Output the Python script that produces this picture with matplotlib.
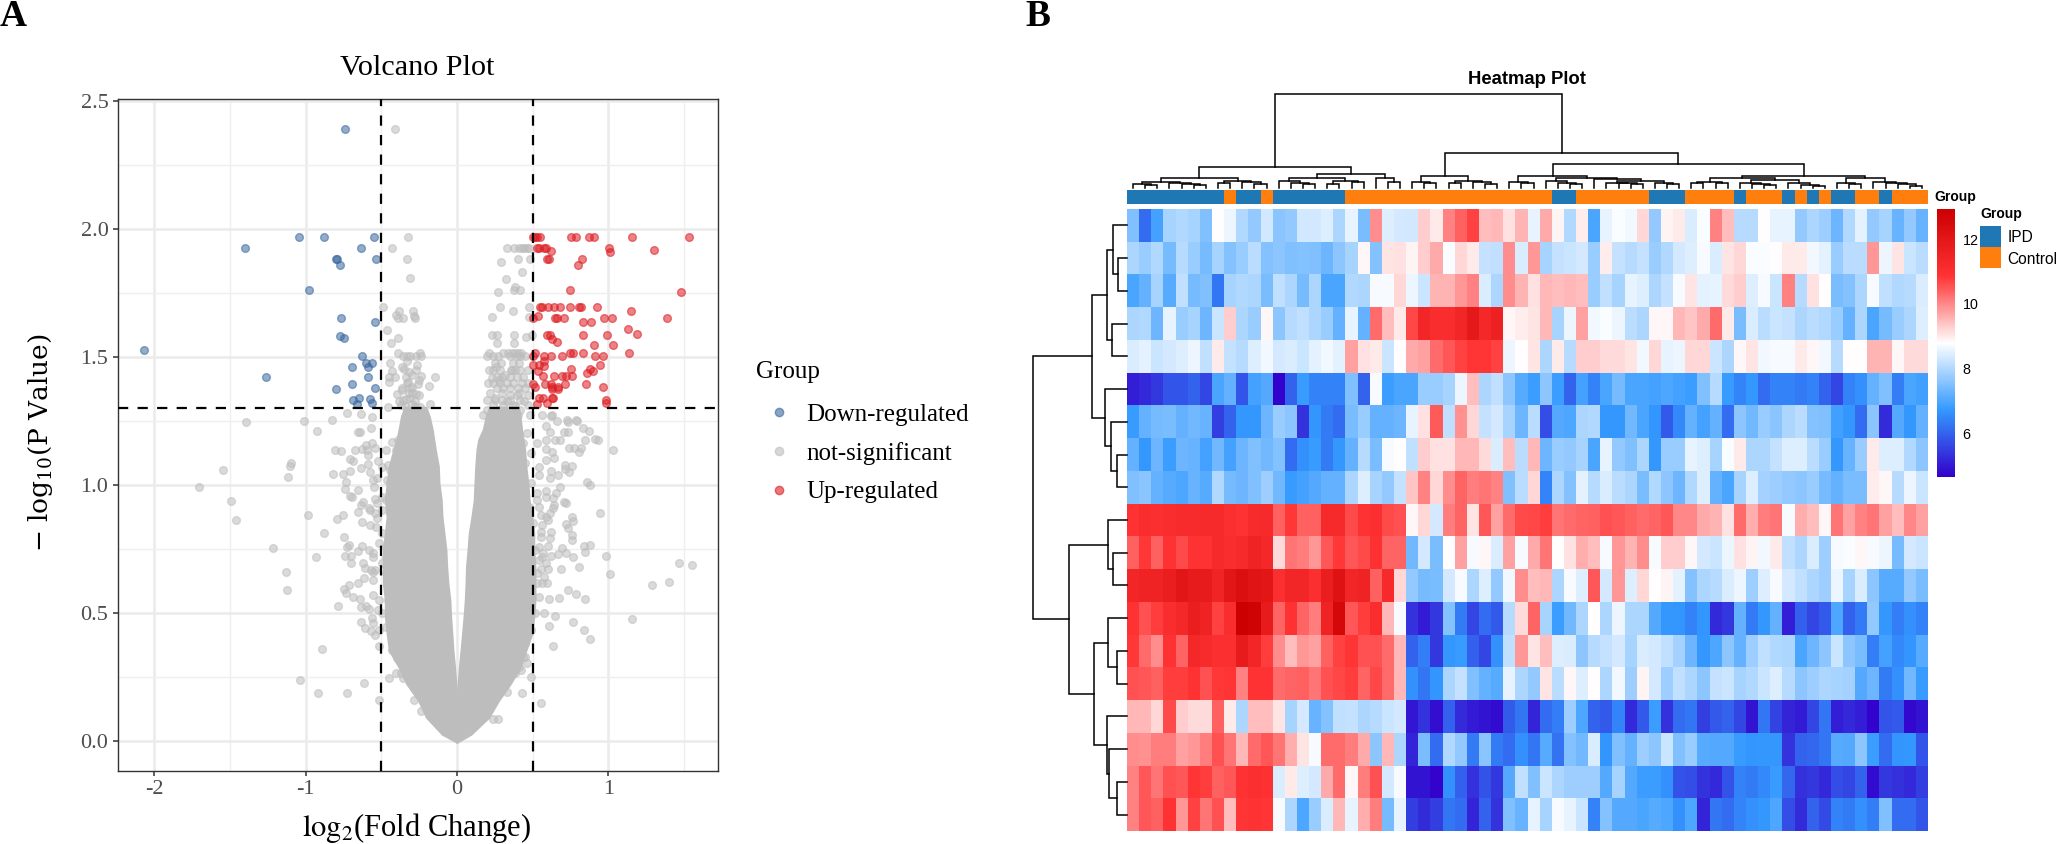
import numpy as np
import matplotlib
matplotlib.use('Agg')
import matplotlib.pyplot as plt
from matplotlib.colors import LinearSegmentedColormap, ListedColormap, Normalize
from matplotlib.lines import Line2D

W, H = 2056, 844
SERIF = 'Liberation Serif'
SANS = 'Liberation Sans'

# ---- panel A : volcano ----
x_ticks = [-2, -1, 0, 1]
y_ticks = [0.0, 0.5, 1.0, 1.5, 2.0, 2.5]
fc_cut = 0.5
p_cut = 1.3

down_points = [(-0.742, 2.392), (-1.042, 1.970), (-0.877, 1.970), (-0.551, 1.970), (-1.401, 1.925), (-0.634, 1.925),
               (-0.800, 1.882), (-0.793, 1.882), (-0.533, 1.882), (-0.771, 1.859), (-0.976, 1.762), (-0.767, 1.651),
               (-0.542, 1.637), (-0.775, 1.583), (-0.744, 1.574), (-2.066, 1.529), (-0.626, 1.504), (-0.599, 1.477),
               (-0.564, 1.477), (-0.586, 1.461), (-0.694, 1.461), (-1.258, 1.424), (-0.586, 1.424), (-0.692, 1.395),
               (-0.802, 1.375), (-0.542, 1.379), (-0.648, 1.340), (-0.685, 1.332), (-0.573, 1.337), (-0.564, 1.322),
               (-0.659, 1.316)]

up_points = [(0.500, 1.970), (0.515, 1.970), (0.531, 1.970), (0.548, 1.970), (0.755, 1.970), (0.784, 1.970),
             (0.870, 1.970), (0.903, 1.970), (1.154, 1.970), (1.533, 1.970), (0.531, 1.925), (0.540, 1.925),
             (0.575, 1.925), (0.588, 1.925), (1.004, 1.925), (0.619, 1.915), (1.300, 1.920), (1.011, 1.910),
             (0.597, 1.882), (0.606, 1.882), (0.826, 1.882), (0.802, 1.859), (0.749, 1.762), (1.482, 1.754),
             (0.548, 1.694), (0.562, 1.694), (0.599, 1.694), (0.643, 1.694), (0.681, 1.694), (0.749, 1.694),
             (0.808, 1.694), (0.822, 1.694), (0.925, 1.694), (1.152, 1.681), (0.533, 1.660), (0.504, 1.652),
             (0.645, 1.652), (0.663, 1.652), (0.707, 1.652), (1.024, 1.652), (0.969, 1.652), (1.388, 1.652),
             (0.830, 1.637), (0.883, 1.637), (1.128, 1.609), (1.192, 1.590), (0.597, 1.585), (0.615, 1.585),
             (0.830, 1.585), (0.993, 1.585), (0.661, 1.560), (0.630, 1.569), (0.905, 1.549), (1.033, 1.549),
             (0.515, 1.514), (0.747, 1.514), (0.764, 1.514), (0.835, 1.514), (1.139, 1.514), (0.500, 1.505),
             (0.577, 1.505), (0.619, 1.505), (0.694, 1.505), (0.914, 1.505), (0.963, 1.505), (0.575, 1.486),
             (0.500, 1.469), (0.945, 1.469), (0.577, 1.465), (0.540, 1.469), (0.751, 1.452), (0.881, 1.452),
             (0.537, 1.445), (0.901, 1.445), (0.857, 1.439), (0.566, 1.426), (0.643, 1.426), (0.692, 1.426),
             (0.718, 1.426), (0.758, 1.426), (0.579, 1.393), (0.500, 1.393), (0.711, 1.393), (0.855, 1.393),
             (0.623, 1.393), (0.515, 1.384), (0.628, 1.384), (0.670, 1.384), (0.967, 1.384), (0.626, 1.374),
             (0.670, 1.376), (0.542, 1.339), (0.570, 1.339), (0.626, 1.339), (0.637, 1.339), (0.987, 1.332),
             (0.593, 1.322), (0.982, 1.322), (0.526, 1.315)]

grey_points = [(-0.412, 2.392), (-0.326, 1.970), (-0.427, 1.925), (-0.333, 1.882), (-0.308, 1.810), (-0.487, 1.697),
               (-0.383, 1.680), (-0.293, 1.681), (-0.405, 1.665), (-0.388, 1.652), (-0.357, 1.652), (-0.286, 1.660),
               (-0.278, 1.652), (-0.463, 1.605), (-0.392, 1.575), (-0.434, 1.556), (-0.392, 1.515), (-0.357, 1.504),
               (-0.333, 1.504), (-0.313, 1.504), (-0.269, 1.504), (-0.242, 1.515), (-0.240, 1.504), (-0.441, 1.477),
               (-0.267, 1.470), (-0.333, 1.486), (-0.350, 1.453), (-0.432, 1.445), (-0.317, 1.440), (-0.452, 1.424),
               (-0.412, 1.424), (-0.339, 1.424), (-0.238, 1.427), (-0.148, 1.424), (-0.324, 1.404), (-0.447, 1.404),
               (-0.258, 1.393), (-0.295, 1.384), (-0.366, 1.380), (-0.313, 1.380), (-0.183, 1.387), (-0.399, 1.355),
               (-0.269, 1.355), (-0.357, 1.332), (-0.339, 1.335), (-0.181, 1.316), (-0.295, 1.317), (-0.456, 1.306),
               (-0.368, 1.313), (-0.247, 1.303),
               (-0.38, 1.33), (-0.34, 1.31), (-0.31, 1.34), (-0.28, 1.33), (-0.25, 1.35), (-0.36, 1.37), (-0.33, 1.40),
               (-0.30, 1.43), (-0.27, 1.45), (-0.36, 1.46), (-0.28, 1.31), (-0.32, 1.36), (-0.25, 1.41), (-0.30, 1.36),
               # right of zero, above the line
               (0.330, 1.925), (0.379, 1.925), (0.410, 1.925), (0.427, 1.925), (0.443, 1.925), (0.460, 1.925),
               (0.478, 1.925), (0.403, 1.882), (0.480, 1.882), (0.291, 1.871), (0.432, 1.833), (0.322, 1.806),
               (0.383, 1.775), (0.377, 1.762), (0.416, 1.762), (0.271, 1.755), (0.284, 1.697), (0.478, 1.697),
               (0.372, 1.681), (0.233, 1.656), (0.478, 1.656), (0.231, 1.586), (0.264, 1.586), (0.377, 1.586),
               (0.454, 1.580), (0.493, 1.586), (0.264, 1.553), (0.379, 1.553), (0.214, 1.514), (0.302, 1.514),
               (0.339, 1.514), (0.361, 1.514), (0.383, 1.514), (0.405, 1.514), (0.423, 1.514), (0.196, 1.504),
               (0.240, 1.504), (0.273, 1.504), (0.350, 1.504), (0.394, 1.504), (0.416, 1.504), (0.449, 1.504),
               (0.251, 1.475), (0.289, 1.475), (0.372, 1.475), (0.412, 1.475), (0.214, 1.449), (0.240, 1.449),
               (0.284, 1.449), (0.361, 1.449), (0.383, 1.449), (0.416, 1.449), (0.471, 1.449), (0.262, 1.423),
               (0.295, 1.423), (0.350, 1.423), (0.394, 1.423), (0.438, 1.423), (0.207, 1.397), (0.240, 1.397),
               (0.284, 1.397), (0.328, 1.397), (0.372, 1.397), (0.427, 1.397), (0.471, 1.397), (0.262, 1.378),
               (0.306, 1.378), (0.350, 1.378), (0.405, 1.378), (0.449, 1.378), (0.350, 1.352), (0.394, 1.352),
               (0.471, 1.352), (0.196, 1.332), (0.251, 1.332), (0.295, 1.332), (0.350, 1.332), (0.416, 1.332),
               (0.240, 1.313), (0.306, 1.313), (0.372, 1.313), (0.471, 1.313), (0.196, 1.293), (0.273, 1.293),
               (0.350, 1.293), (0.416, 1.293), (0.174, 1.273), (0.229, 1.273), (0.295, 1.273), (0.405, 1.273),
               (0.482, 1.273), (0.559, 1.273), (0.625, 1.273), (0.725, 1.254), (0.786, 1.254),
               (0.33, 1.33), (0.30, 1.36), (0.25, 1.34), (0.22, 1.36), (0.28, 1.41), (0.32, 1.43), (0.23, 1.42),
               (0.36, 1.45), (0.41, 1.36), (0.44, 1.33), (0.38, 1.31), (0.26, 1.46),
               # below the line, left side
               (-1.392, 1.245), (-1.010, 1.251), (-0.827, 1.254), (-0.925, 1.210), (-0.724, 1.280), (-0.631, 1.277),
               (-0.564, 1.267), (-0.652, 1.206), (-0.642, 1.208), (-0.570, 1.221), (-0.807, 1.137), (-0.765, 1.133),
               (-0.673, 1.137), (-0.626, 1.139), (-0.603, 1.156), (-0.564, 1.163), (-0.595, 1.137), (-0.544, 1.143),
               (-0.588, 1.117), (-0.709, 1.100), (-0.686, 1.095), (-0.523, 1.095), (-1.098, 1.085), (-1.106, 1.074),
               (-1.546, 1.057), (-1.116, 1.030), (-1.704, 0.992), (-1.495, 0.938), (-1.459, 0.865), (-0.822, 1.043),
               (-0.750, 1.043), (-0.709, 1.056), (-0.634, 1.068), (-0.577, 1.051), (-0.590, 1.082), (-0.735, 1.010),
               (-0.557, 1.020), (-0.740, 0.983), (-0.655, 0.980), (-0.709, 0.957), (-0.693, 0.954), (-0.549, 0.991),
               (-0.544, 0.944), (-0.621, 0.935), (-0.634, 0.922), (-0.652, 0.896), (-0.582, 0.909), (-0.544, 0.889),
               (-0.750, 0.883), (-0.791, 0.868), (-0.987, 0.884), (-0.629, 0.854), (-0.577, 0.844), (-0.536, 0.837),
               (-0.876, 0.811), (-0.747, 0.798), (-1.214, 0.754), (-0.930, 0.720), (-1.126, 0.660), (-1.124, 0.590),
               (-0.711, 0.766), (-0.724, 0.759), (-0.629, 0.762), (-0.652, 0.743), (-0.582, 0.746), (-0.737, 0.724),
               (-0.698, 0.724), (-0.557, 0.720), (-0.698, 0.694), (-0.621, 0.694), (-0.608, 0.677), (-0.570, 0.668),
               (-0.616, 0.635), (-0.557, 0.661), (-0.652, 0.616), (-0.711, 0.609), (-0.745, 0.594), (-0.735, 0.579),
               (-0.686, 0.561), (-0.642, 0.555), (-0.557, 0.570), (-0.789, 0.526), (-0.634, 0.522), (-0.601, 0.529),
               (-0.582, 0.514), (-0.523, 0.512), (-0.634, 0.466), (-0.564, 0.479), (-0.557, 0.462), (-0.606, 0.440),
               (-0.570, 0.428), (-0.544, 0.414), (-0.515, 0.372), (-0.889, 0.358), (-1.036, 0.240), (-0.920, 0.189),
               (-0.729, 0.186), (-0.611, 0.228), (-0.515, 0.160), (-0.405, 0.267), (-0.371, 0.267), (-0.446, 0.245),
               (-0.356, 0.245), (-0.284, 0.160), (-0.235, 0.118),
               # below the line, right side
               (0.554, 0.150), (0.428, 0.186), (0.492, 0.251), (0.240, 0.085), (0.273, 0.085), (0.634, 0.372),
               (0.881, 0.400), (0.838, 0.434), (0.608, 0.451), (0.765, 0.466), (0.649, 0.488), (0.572, 0.499),
               (1.157, 0.477), (0.606, 0.555), (0.673, 0.560), (0.732, 0.590), (0.789, 0.573), (0.845, 0.555),
               (1.286, 0.609), (1.399, 0.620), (1.469, 0.694), (1.552, 0.688), (1.010, 0.652), (0.987, 0.723),
               (0.688, 0.672), (0.807, 0.678), (0.595, 0.616), (0.564, 0.616), (0.526, 0.616), (0.577, 0.642),
               (0.603, 0.674), (0.552, 0.674), (0.539, 0.707), (0.590, 0.694), (0.693, 0.755), (0.719, 0.733),
               (0.765, 0.717), (0.668, 0.730), (0.621, 0.724), (0.570, 0.733), (0.838, 0.762), (0.881, 0.764),
               (0.843, 0.738), (0.539, 0.759), (0.603, 0.762), (0.616, 0.792), (0.552, 0.818), (0.624, 0.818),
               (0.758, 0.805), (0.758, 0.785), (0.719, 0.848), (0.732, 0.831), (0.758, 0.876), (0.765, 0.861),
               (0.946, 0.889), (0.709, 0.935), (0.719, 0.931), (0.642, 0.922), (0.616, 0.889), (0.585, 0.954),
               (0.603, 0.863), (0.552, 0.883), (0.564, 0.844), (0.637, 0.909), (0.590, 0.876), (0.861, 1.013),
               (0.876, 1.000), (0.680, 0.993), (0.655, 0.967), (0.590, 0.978), (0.526, 0.941), (0.637, 0.948),
               (0.711, 1.077), (0.758, 1.074), (0.740, 1.052), (0.711, 1.061), (0.621, 1.056), (0.668, 1.039),
               (0.616, 1.026), (0.539, 1.039), (1.028, 1.137), (0.930, 1.176), (0.912, 1.178), (0.848, 1.176),
               (0.740, 1.146), (0.771, 1.146), (0.822, 1.143), (0.804, 1.130), (0.585, 1.176), (0.647, 1.176),
               (0.680, 1.176), (0.590, 1.139), (0.629, 1.130), (0.642, 1.104), (0.590, 1.098), (0.874, 1.212),
               (0.835, 1.221), (0.791, 1.251), (0.732, 1.247), (0.706, 1.206), (0.732, 1.206), (0.616, 1.208),
               (0.590, 1.230), (0.660, 1.251), (0.621, 1.269),
               # specks on the edge of the dense part
               (-0.441, 1.059), (-0.461, 1.020), (-0.466, 0.941), (-0.441, 0.889), (-0.454, 0.785), (-0.466, 0.720),
               (-0.441, 0.603), (-0.454, 0.551), (-0.441, 0.447), (-0.415, 0.395), (-0.428, 0.355), (-0.394, 0.323),
               (0.448, 0.329), (0.461, 0.303), (0.423, 0.277), (0.384, 0.264), (0.332, 0.193),
               (-0.428, 1.169), (-0.389, 1.176), (-0.466, 1.137), (-0.402, 1.137), (-0.325, 1.150), (-0.492, 1.072),
               (-0.454, 1.078), (-0.531, 1.026), (-0.441, 1.013), (-0.492, 0.954), (-0.531, 0.928), (-0.575, 0.902),
               (-0.492, 0.902), (-0.428, 0.915), (-0.531, 0.870), (-0.441, 0.850), (-0.492, 0.811), (-0.513, 0.772),
               (-0.557, 0.733), (-0.466, 0.759), (-0.492, 0.694), (-0.544, 0.668), (-0.557, 0.629), (-0.466, 0.655),
               (-0.518, 0.551), (-0.441, 0.577), (-0.492, 0.499), (-0.441, 0.512), (-0.466, 0.447), (-0.415, 0.421),
               (-0.513, 0.434),
               (0.461, 1.202), (0.436, 1.163), (0.526, 1.163), (0.487, 1.124), (0.448, 1.085), (0.539, 1.072),
               (0.487, 1.007), (0.526, 0.967), (0.474, 0.915), (0.539, 0.915), (0.500, 0.850), (0.552, 0.798),
               (0.513, 0.746), (0.564, 0.720), (0.526, 0.655), (0.487, 0.603), (0.539, 0.564), (0.513, 0.499),
               (0.487, 0.434), (0.448, 0.382), (0.436, 0.329), (0.410, 0.290)]

# thousands of dots overlap into a solid shape here, so its outline is what was read
mass_y = [0.0, 0.03, 0.095, 0.16, 0.225, 0.29, 0.355, 0.42, 0.486, 0.551, 0.616, 0.681, 0.746, 0.811, 0.876, 0.941,
          1.007, 1.072, 1.137, 1.176, 1.215, 1.267, 1.30]
mass_left_outer = [0.0, -0.093, -0.196, -0.247, -0.325, -0.376, -0.44, -0.454, -0.466, -0.466, -0.479, -0.479, -0.479,
                   -0.466, -0.454, -0.466, -0.454, -0.44, -0.41, -0.39, -0.376, -0.36, -0.34]
mass_left_inner = [0.0, -0.002, -0.006, -0.008, -0.015, -0.023, -0.034, -0.041, -0.049, -0.054, -0.067, -0.075, -0.08,
                   -0.093, -0.106, -0.111, -0.126, -0.13, -0.15, -0.16, -0.17, -0.19, -0.21]
mass_right_inner = [0.0, 0.002, 0.006, 0.008, 0.015, 0.023, 0.034, 0.044, 0.054, 0.062, 0.067, 0.07, 0.08, 0.088, 0.106,
                    0.121, 0.126, 0.131, 0.139, 0.15, 0.18, 0.20, 0.22]
mass_right_outer = [0.0, 0.088, 0.204, 0.268, 0.345, 0.41, 0.448, 0.487, 0.5, 0.508, 0.508, 0.508, 0.50, 0.50, 0.487,
                    0.47, 0.461, 0.448, 0.44, 0.43, 0.42, 0.41, 0.40]

# ---- panel B : heatmap, one row per gene, read by eye from the colours ----
heat_values = [
    [7.5, 6.1, 6.9, 7.9, 8.0, 7.9, 7.5, 8.8, 8.6, 8.0, 7.7, 8.3, 7.6, 7.7, 8.3, 8.3, 8.45, 7.95, 8.55, 7.45, 9.95, 8.45, 8.35, 8.3, 9.3, 9.0, 10.05, 10.4, 10.7, 9.45, 9.5, 9.1, 9.55, 8.55, 9.65,
     8.9, 8.0, 8.95, 6.95, 8.55, 8.75, 8.65, 9.2, 7.7, 8.9, 9.0, 8.4, 8.75, 10.05, 9.45, 8.05, 8.05, 8.8, 8.55, 8.55, 7.7, 7.95, 7.8, 7.3, 8.0, 8.5, 7.7, 7.9, 7.25, 7.7, 7.25],
    [7.95, 7.75, 8.0, 7.4, 8.05, 7.75, 7.4, 7.9, 7.55, 7.75, 8.1, 7.55, 7.65, 7.5, 7.55, 7.5, 7.3, 7.65, 7.9, 8.85, 7.55, 9.05, 9.1, 8.9, 9.3, 9.65, 8.75, 9.2, 9.0, 8.2, 8.15, 9.95, 8.4, 9.85, 7.9,
     8.2, 8.25, 8.35, 7.75, 8.95, 8.2, 8.05, 8.2, 7.75, 8.0, 8.35, 8.45, 8.7, 8.4, 9.05, 9.2, 8.75, 8.75, 8.8, 9.0, 9.0, 8.65, 8.5, 7.75, 8.1, 8.1, 9.85, 8.6, 9.05, 8.25, 8.1],
    [6.95, 7.2, 7.9, 7.1, 8.15, 7.4, 7.5, 6.25, 7.9, 8.0, 7.95, 7.45, 8.15, 7.95, 7.4, 7.95, 6.95, 6.95, 8.0, 7.95, 8.7, 8.7, 9.2, 8.6, 8.25, 9.55, 9.55, 9.85, 10.05, 8.4, 7.95, 9.95, 9.55, 9.1, 9.5,
     9.45, 9.5, 9.45, 7.75, 8.15, 7.9, 8.55, 8.45, 7.95, 8.2, 8.7, 9.05, 8.5, 8.55, 9.15, 9.3, 8.45, 8.7, 8.25, 10.05, 8.05, 9.1, 8.8, 7.45, 7.55, 7.95, 8.7, 8.15, 8.0, 8.05, 8.4],
    [7.95, 8.0, 7.3, 8.55, 7.75, 7.9, 7.3, 8.25, 9.3, 7.95, 7.75, 8.85, 7.65, 8.05, 8.15, 7.95, 7.75, 7.2, 8.55, 7.2, 10.3, 9.45, 9.0, 10.65, 11.4, 11.1, 11.1, 11.4, 11.9, 11.3, 11.6, 8.85, 8.95, 9.05, 9.5,
     7.9, 8.6, 9.75, 8.65, 8.75, 8.6, 8.1, 7.95, 8.85, 8.85, 9.5, 9.4, 9.65, 10.3, 9.0, 7.45, 8.4, 8.1, 8.25, 8.2, 7.95, 8.1, 8.0, 7.75, 7.2, 7.95, 6.95, 7.4, 7.75, 7.95, 8.45],
    [8.4, 8.5, 8.25, 8.35, 8.45, 8.6, 8.15, 9.0, 8.2, 8.05, 8.45, 8.65, 8.35, 8.4, 8.25, 8.5, 8.65, 8.5, 9.75, 9.1, 9.0, 8.25, 8.8, 9.65, 9.75, 10.3, 10.5, 10.7, 10.85, 10.85, 10.7, 8.6, 8.8, 9.05, 7.95,
     9.0, 8.05, 9.3, 9.3, 9.15, 9.15, 9.05, 8.65, 9.2, 8.55, 8.6, 9.2, 9.2, 8.25, 7.95, 8.85, 9.05, 8.65, 8.7, 8.7, 9.0, 8.85, 8.65, 8.05, 8.8, 8.8, 9.55, 9.55, 8.85, 9.15, 9.15],
    [5.05, 5.2, 5.4, 5.8, 5.8, 6.0, 5.6, 6.95, 7.2, 5.8, 6.9, 7.05, 4.7, 6.0, 6.75, 6.4, 6.4, 6.4, 7.5, 6.0, 8.7, 6.8, 6.95, 6.95, 7.75, 7.75, 7.9, 8.6, 9.45, 7.95, 8.15, 7.65, 7.1, 6.8, 7.65,
     6.8, 6.0, 6.9, 6.4, 6.95, 7.4, 6.95, 6.95, 6.9, 7.0, 6.9, 6.8, 7.5, 8.05, 6.75, 6.45, 6.7, 6.1, 6.4, 6.4, 6.3, 6.4, 6.0, 5.6, 6.4, 6.6, 7.2, 7.5, 6.35, 6.95, 6.85],
    [6.75, 7.2, 7.4, 7.45, 7.2, 7.35, 7.25, 5.5, 6.0, 6.7, 6.7, 7.3, 7.75, 7.65, 5.35, 6.65, 6.3, 6.1, 7.45, 7.75, 7.2, 7.2, 7.3, 8.55, 9.1, 10.45, 8.15, 9.9, 9.2, 8.2, 8.35, 7.9, 7.3, 8.1, 5.7,
     7.05, 7.0, 7.95, 8.0, 6.7, 6.7, 7.35, 6.95, 6.65, 5.85, 6.5, 7.2, 6.9, 7.2, 6.1, 7.65, 7.35, 7.75, 7.6, 7.95, 8.1, 7.55, 7.5, 6.85, 6.7, 6.1, 7.6, 5.25, 7.05, 6.7, 7.2],
    [7.2, 6.7, 7.3, 6.8, 7.3, 7.25, 6.9, 7.35, 6.9, 7.3, 7.5, 7.35, 7.55, 6.1, 6.6, 6.75, 6.3, 6.7, 7.2, 8.05, 7.45, 8.7, 8.8, 8.15, 9.3, 9.1, 9.1, 9.5, 9.5, 9.15, 8.4, 9.45, 8.1, 9.5, 7.3,
     7.75, 7.7, 7.9, 6.95, 8.55, 7.7, 7.5, 7.95, 6.7, 7.75, 7.75, 8.55, 8.45, 7.9, 8.75, 9.0, 7.95, 7.95, 8.2, 8.45, 8.45, 8.1, 7.75, 6.7, 7.25, 7.75, 9.0, 8.45, 8.45, 8.0, 7.65],
    [7.5, 7.6, 7.2, 7.1, 7.0, 7.25, 7.1, 8.0, 7.4, 7.3, 7.5, 7.8, 7.35, 6.75, 6.9, 7.05, 7.2, 7.2, 7.95, 8.45, 7.9, 7.7, 8.2, 9.4, 10.05, 9.2, 9.95, 10.35, 10.1, 10.2, 10.05, 7.5, 8.1, 9.2, 6.45,
     7.95, 7.55, 8.5, 8.05, 8.4, 8.1, 7.95, 7.45, 8.0, 7.65, 7.3, 8.0, 8.45, 7.2, 6.95, 7.9, 8.45, 7.85, 7.8, 7.7, 7.65, 7.75, 7.4, 7.2, 7.45, 7.45, 8.95, 8.85, 8.05, 8.6, 8.25],
    [10.9, 11.1, 11.0, 11.1, 11.15, 11.15, 11.2, 11.2, 11.0, 10.9, 11.15, 11.2, 10.4, 10.8, 10.4, 10.4, 11.2, 11.2, 10.6, 10.9, 11.0, 10.6, 10.55, 8.85, 9.2, 8.35, 10.1, 10.35, 9.05, 10.5, 9.75, 10.3, 10.6, 10.65, 10.75,
     10.2, 10.3, 10.35, 10.4, 10.55, 10.5, 10.4, 10.3, 10.35, 10.5, 10.0, 10.0, 9.65, 9.55, 9.1, 10.3, 9.6, 10.1, 10.2, 8.7, 9.6, 9.45, 8.85, 10.2, 9.75, 10.05, 10.2, 9.75, 9.45, 10.0, 9.75],
    [10.4, 10.8, 10.4, 10.9, 10.6, 10.9, 10.9, 11.2, 11.1, 11.2, 11.5, 11.3, 9.15, 10.2, 10.1, 9.85, 10.5, 10.8, 10.5, 10.6, 10.95, 10.35, 10.35, 7.35, 8.35, 7.45, 8.8, 9.75, 8.7, 8.85, 8.4, 9.75, 8.7, 9.65, 10.2,
     8.8, 9.1, 9.6, 9.45, 8.7, 9.85, 9.55, 9.95, 8.7, 9.3, 9.3, 8.85, 8.35, 8.25, 8.6, 9.1, 8.9, 8.65, 9.0, 8.15, 7.95, 8.4, 7.8, 8.7, 8.75, 8.85, 8.7, 8.6, 7.4, 8.35, 8.25],
    [11.4, 11.5, 11.5, 11.7, 12.0, 11.8, 11.8, 11.45, 12.0, 12.3, 12.1, 12.0, 11.0, 11.4, 11.4, 11.0, 11.7, 12.2, 11.4, 11.5, 10.4, 11.2, 9.2, 7.7, 7.4, 7.45, 8.35, 8.7, 7.95, 8.45, 7.7, 8.65, 9.95, 9.45, 9.5,
     7.95, 8.7, 8.45, 10.5, 8.35, 9.85, 8.45, 9.2, 8.8, 8.9, 8.5, 7.55, 7.95, 8.05, 8.4, 8.6, 7.8, 8.45, 8.7, 8.35, 8.15, 7.95, 7.8, 8.6, 7.9, 8.4, 7.65, 7.1, 7.1, 7.7, 7.45],
    [10.9, 10.55, 10.75, 11.1, 11.3, 11.7, 11.5, 10.7, 11.1, 12.9, 12.8, 11.8, 10.35, 10.9, 10.35, 10.1, 11.5, 12.6, 10.5, 10.75, 11.1, 9.5, 8.7, 5.35, 5.0, 5.4, 7.55, 6.3, 5.6, 6.1, 5.85, 8.05, 9.15, 10.35, 7.9,
     6.8, 7.35, 7.95, 8.8, 7.95, 8.6, 7.95, 7.95, 7.05, 6.7, 6.65, 6.4, 6.65, 5.2, 5.4, 7.2, 6.3, 6.7, 7.2, 5.05, 5.95, 5.6, 5.85, 7.0, 5.95, 6.3, 7.7, 6.7, 6.35, 6.6, 6.4],
    [10.8, 10.3, 9.95, 10.9, 10.35, 11.3, 11.15, 11.0, 11.0, 11.8, 11.4, 10.75, 9.95, 9.45, 9.85, 9.75, 10.4, 10.7, 10.85, 10.55, 10.55, 10.3, 9.5, 6.0, 6.35, 5.4, 6.7, 6.75, 5.95, 5.6, 6.6, 8.15, 9.85, 9.05, 9.45,
     8.45, 8.4, 7.65, 8.05, 8.2, 8.35, 7.9, 8.4, 8.35, 8.15, 7.85, 7.3, 6.7, 7.0, 7.65, 7.2, 7.8, 8.15, 8.0, 7.95, 6.95, 7.3, 7.65, 8.25, 7.65, 7.45, 6.35, 6.9, 6.5, 6.65, 7.1],
    [10.55, 10.5, 10.4, 10.75, 10.75, 10.9, 10.55, 10.8, 10.85, 10.05, 10.9, 10.9, 10.3, 10.35, 10.4, 10.2, 10.55, 10.65, 10.75, 10.35, 10.65, 10.3, 9.5, 6.6, 6.25, 6.65, 7.95, 8.2, 7.5, 7.2, 7.1, 8.55, 7.95, 7.7, 9.05,
     8.1, 8.85, 8.45, 8.8, 7.95, 8.65, 7.8, 8.9, 8.35, 7.8, 8.15, 7.95, 7.65, 8.2, 8.25, 7.9, 8.0, 8.25, 8.45, 8.05, 7.65, 7.8, 7.95, 7.9, 7.85, 7.05, 7.3, 6.3, 6.6, 7.35, 6.75],
    [9.5, 9.5, 9.2, 10.6, 9.3, 9.15, 9.15, 10.4, 9.0, 7.95, 9.45, 9.45, 9.05, 7.9, 8.35, 7.25, 7.55, 8.15, 8.2, 7.95, 8.05, 8.25, 8.35, 4.95, 5.35, 4.85, 5.95, 5.25, 5.0, 4.9, 4.8, 5.9, 6.25, 5.15, 6.1,
     6.35, 7.8, 7.0, 6.0, 5.85, 6.45, 5.2, 5.85, 6.8, 5.3, 6.1, 6.25, 5.5, 5.85, 6.0, 5.6, 4.9, 6.25, 5.55, 5.15, 5.0, 5.6, 6.25, 5.05, 5.2, 5.05, 4.7, 5.8, 5.85, 4.75, 4.9],
    [9.95, 9.9, 10.1, 10.1, 9.75, 9.85, 10.1, 10.55, 10.2, 9.5, 10.3, 10.5, 10.2, 9.6, 9.05, 8.7, 10.3, 10.3, 10.1, 9.65, 7.65, 9.5, 7.95, 5.15, 7.45, 6.1, 8.0, 7.7, 6.3, 7.6, 6.3, 6.1, 6.6, 6.25, 7.1,
     6.2, 7.55, 7.35, 8.4, 6.65, 7.5, 7.2, 7.8, 7.65, 8.25, 7.5, 7.75, 7.1, 7.05, 7.05, 6.75, 6.65, 6.7, 6.7, 5.35, 6.0, 6.05, 6.25, 7.1, 7.05, 7.65, 6.8, 6.1, 6.65, 6.7, 5.8],
    [10.05, 10.5, 10.2, 10.55, 10.5, 10.85, 10.75, 10.4, 10.5, 10.9, 11.0, 10.95, 8.4, 9.0, 8.45, 8.35, 9.65, 10.3, 8.85, 10.1, 10.55, 8.35, 8.7, 4.9, 4.9, 4.7, 6.6, 5.95, 5.3, 5.75, 5.4, 7.05, 8.15, 7.5, 8.25,
     7.95, 7.8, 7.8, 7.8, 7.05, 7.9, 7.05, 6.8, 6.8, 6.6, 5.75, 5.7, 5.35, 5.2, 5.75, 6.4, 6.3, 6.5, 6.75, 6.05, 5.3, 5.4, 5.2, 5.7, 5.6, 6.0, 4.8, 5.4, 5.3, 5.2, 5.5],
    [10.05, 10.5, 10.4, 10.9, 9.85, 10.7, 10.2, 10.55, 9.45, 10.85, 10.9, 10.85, 8.7, 7.95, 7.0, 7.75, 8.4, 9.5, 8.55, 9.6, 10.1, 7.4, 8.55, 5.5, 5.25, 5.5, 6.25, 6.1, 5.15, 6.0, 5.35, 7.5, 7.25, 8.55, 7.9,
     8.7, 8.55, 8.25, 6.4, 7.55, 7.05, 7.05, 6.95, 7.1, 7.0, 6.6, 7.0, 5.15, 6.25, 6.1, 6.45, 6.6, 6.7, 7.0, 5.7, 5.25, 6.0, 5.65, 6.4, 6.3, 6.6, 6.35, 7.5, 6.1, 6.1, 5.8],
]

# annotation strip: 0 = IPD, 1 = Control
group_flags = [0, 0, 0, 0, 0, 0, 0, 0, 1, 0, 0, 1, 0, 0, 0, 0, 0, 0, 1, 1, 1, 1, 1, 1, 1, 1, 1, 1, 1, 1, 1, 1, 1,
               1, 1, 0, 0, 1, 1, 1, 1, 1, 1, 0, 0, 0, 1, 1, 1, 1, 0, 1, 1, 1, 0, 1, 0, 1, 0, 0, 1, 1, 0, 1, 1, 1]
group_names = ['IPD', 'Control']
group_colors = ['#1F77B4', '#FF7F0E']

heat_min, heat_max = 4.64, 12.93
heat_colors = ['#3300CC', '#3399FF', '#FFFFFF', '#FF3333', '#CC0000']
bar_ticks = [6, 8, 10, 12]

# trees: (height, left, right), an int is a leaf
col_left = (21,
            (9.3,
             (5.3, (3.3, 0, (2.7, 1, 2)), (4.3, 3, (3.7, 4, (2.7, 5, 6)))),
             (6.7, (4.7, 7, 8), (5.3, 9, (3.7, 10, 11)))),
            (13.7,
             (9.3,
              (7, 12, (4.3, 13, (3.7, 14, 15))),
              (7, (3.3, 16, 17), (5.3, 18, 19))),
             (9.7, 20, (5.3, 21, 22))))
col_r1 = (12,
          (5.3, 23, (4.3, 24, 25)),
          (7, (4.3, 26, 27), (6, 28, (3.3, 29, 30))))
col_r2 = (11.7,
          (6, 31, (4.3, 32, 33)),
          (10,
           (7, 34, (4.3, 35, (4, 36, 37))),
           (8.7, 38, (6.3, (5, 39, (4.3, 40, (3.7, 41, 42))), (5, 43, (3.3, 44, 45))))))
col_r3 = (11.7,
          (9.3,
           (5.3, (4.3, 46, 47), (5, 48, 49)),
           (7.7, (4.3, 50, (3.3, 51, (2.7, 52, 53))), (4.3, 54, (3, 55, (2, 56, 57))))),
          (9.3,
           (4.3, 58, (3.3, 59, 60)),
           (6, 61, (5, 62, (3.3, 63, (2, 64, 65))))))
col_tree = (93.4, col_left, (35, col_r1, (23.7, col_r2, col_r3)))

row_tree = (93.7,
            (34.7,
             (20.3, (13.7, 0, (9.3, 1, 2)), (15, 3, 4)),
             (21.7, 5, (16, 6, (10.3, 7, 8)))),
            (57.7,
             (19.3, 9, (13.7, 10, 11)),
             (33,
              (18.7, 12, (10.3, 13, 14)),
              (20.3, 15, (18.3, 16, (10.3, 17, 18))))))


def box(left, top, right, bottom):
    # pixel box of the reference -> figure fractions
    return [left / W, 1 - bottom / H, (right - left) / W, (bottom - top) / H]


def walk(node, segs):
    # returns position and height of a node, collects the bracket lines
    if isinstance(node, int):
        return node + 0.5, 0
    h, a, b = node
    pa, ha = walk(a, segs)
    pb, hb = walk(b, segs)
    segs.append(([pa, pa, pb, pb], [ha, h, h, hb]))
    return (pa + pb) / 2, h


plt.rcParams['font.family'] = SERIF
fig = plt.figure(figsize=(W / 100, H / 100), dpi=100)

# ---- volcano ----
ax = fig.add_axes(box(117.5, 99, 718, 771))
grey = np.array(grey_points)
down = np.array(down_points)
up = np.array(up_points)

ax.fill_betweenx(mass_y, mass_left_outer, mass_left_inner, color='#BDBDBD', lw=3, zorder=2)
ax.fill_betweenx(mass_y, mass_right_inner, mass_right_outer, color='#BDBDBD', lw=3, zorder=2)
dot = dict(s=31, linewidths=1.0, alpha=0.55, zorder=3)
h_grey = ax.scatter(grey[:, 0], grey[:, 1], color='#BDBDBD', **dot)
h_down = ax.scatter(down[:, 0], down[:, 1], color='#3A689F', **dot)
h_up = ax.scatter(up[:, 0], up[:, 1], color='#DC1C22', **dot)

dash = (0, (4.6, 4.2))
ax.axhline(p_cut, color='black', lw=1.6, ls=dash, zorder=4)
ax.axvline(-fc_cut, color='black', lw=1.6, ls=dash, zorder=4)
ax.axvline(fc_cut, color='black', lw=1.6, ls=dash, zorder=4)

ax.set_xlim(-2.242, 1.724)
ax.set_ylim(-0.117, 2.508)
ax.set_xticks(x_ticks)
ax.set_xticklabels([str(v) for v in x_ticks])
ax.set_yticks(y_ticks)
ax.set_yticklabels(['%.1f' % v for v in y_ticks])
ax.set_xticks([-1.5, -0.5, 0.5, 1.5], minor=True)
ax.set_yticks([0.25, 0.75, 1.25, 1.75, 2.25], minor=True)
ax.grid(True, which='major', color='#EBEBEB', lw=1.8)
ax.grid(True, which='minor', color='#EFEFEF', lw=1.0)
ax.set_axisbelow(True)
ax.tick_params(which='minor', length=0)
ax.tick_params(which='major', length=3.5, width=1.1, color='#333333', labelcolor='#4D4D4D', labelsize=16, pad=3)
for sp in ax.spines.values():
    sp.set_color('#333333')
    sp.set_linewidth(1.0)

fig.text(417 / W, 1 - 68 / H, 'Volcano Plot', ha='center', va='center', fontsize=21.7)
fig.text(417 / W, 1 - 828 / H, r'$\mathrm{log}_{2}$(Fold Change)', ha='center', va='center', fontsize=22,
         math_fontfamily='stix')
fig.text(41 / W, 1 - 443 / H, r'$-\ \mathrm{log}_{10}$(P Value)', ha='center', va='center', rotation=90, fontsize=19,
         family='DejaVu Serif', math_fontfamily='dejavuserif')
fig.text(0, 1 - 16 / H, 'A', ha='left', va='center', fontsize=27, weight='bold')
fig.text(1025 / W, 1 - 16 / H, 'B', ha='left', va='center', fontsize=27, weight='bold')

handles = [Line2D([], [], ls='', marker='o', ms=6, color=c, alpha=0.6) for c in ('#3A689F', '#BDBDBD', '#DC1C22')]
fig.text(756 / W, 1 - 372 / H, 'Group', ha='left', va='center', fontsize=18)
fig.legend(handles, ['Down-regulated', 'not-significant', 'Up-regulated'], loc='upper left',
           bbox_to_anchor=(771 / W, 1 - 403 / H), frameon=False, fontsize=18, labelspacing=0.65, handletextpad=0.8,
           handlelength=0.6, borderaxespad=0, borderpad=0)

# ---- heatmap ----
heat_cmap = LinearSegmentedColormap.from_list('heat', heat_colors, N=256)
heat_norm = Normalize(heat_min, heat_max)
heat_ax = fig.add_axes(box(1127, 209, 1928, 831))
mesh = heat_ax.pcolormesh(np.array(heat_values), cmap=heat_cmap, norm=heat_norm, rasterized=True)
heat_ax.invert_yaxis()
heat_ax.axis('off')

strip_ax = fig.add_axes(box(1127, 190, 1928, 204))
strip_ax.pcolormesh(np.array([group_flags]), cmap=ListedColormap(group_colors), vmin=0, vmax=1)
strip_ax.axis('off')
fig.text(1934 / W, 1 - 197 / H, 'Group', ha='left', va='center', fontsize=10, weight='bold', family=SANS)

tree_ax = fig.add_axes(box(1127, 94.3, 1928, 187.7))
segs = []
walk(col_tree, segs)
for xs, ys in segs:
    tree_ax.plot(xs, ys, color='black', lw=1.1, clip_on=False, solid_joinstyle='miter')
tree_ax.set_xlim(0, len(group_flags))
tree_ax.set_ylim(0, col_tree[0])
tree_ax.axis('off')

side_ax = fig.add_axes(box(1033.3, 209, 1127, 831))
segs = []
walk(row_tree, segs)
for ys, xs in segs:
    side_ax.plot(xs, ys, color='black', lw=1.1, clip_on=False, solid_joinstyle='miter')
side_ax.set_xlim(row_tree[0], 0)
side_ax.set_ylim(len(heat_values), 0)
side_ax.axis('off')

fig.text(1527 / W, 1 - 79 / H, 'Heatmap Plot', ha='center', va='center', fontsize=13.3, weight='bold', family=SANS)

bar_ax = fig.add_axes(box(1937, 209, 1955, 477))
cb = fig.colorbar(mesh, cax=bar_ax, ticks=bar_ticks)
cb.outline.set_visible(False)
cb.ax.tick_params(length=0, pad=5.5, labelsize=10.3)
for t in cb.ax.get_yticklabels():
    t.set_family(SANS)

key_ax = fig.add_axes(box(1980, 226, 2001, 268))
key_ax.pcolormesh(np.array([[0], [1]]), cmap=ListedColormap(group_colors), vmin=0, vmax=1)
key_ax.invert_yaxis()
key_ax.set_xticks([])
key_ax.set_yticks([0.5, 1.5])
key_ax.set_yticklabels(group_names, family=SANS, fontsize=11.2)
key_ax.yaxis.tick_right()
key_ax.tick_params(length=0, pad=4.5)
for sp in key_ax.spines.values():
    sp.set_visible(False)
fig.text(1980 / W, 1 - 214 / H, 'Group', ha='left', va='center', fontsize=10, weight='bold', family=SANS)

fig.savefig('out.png', dpi=100)
